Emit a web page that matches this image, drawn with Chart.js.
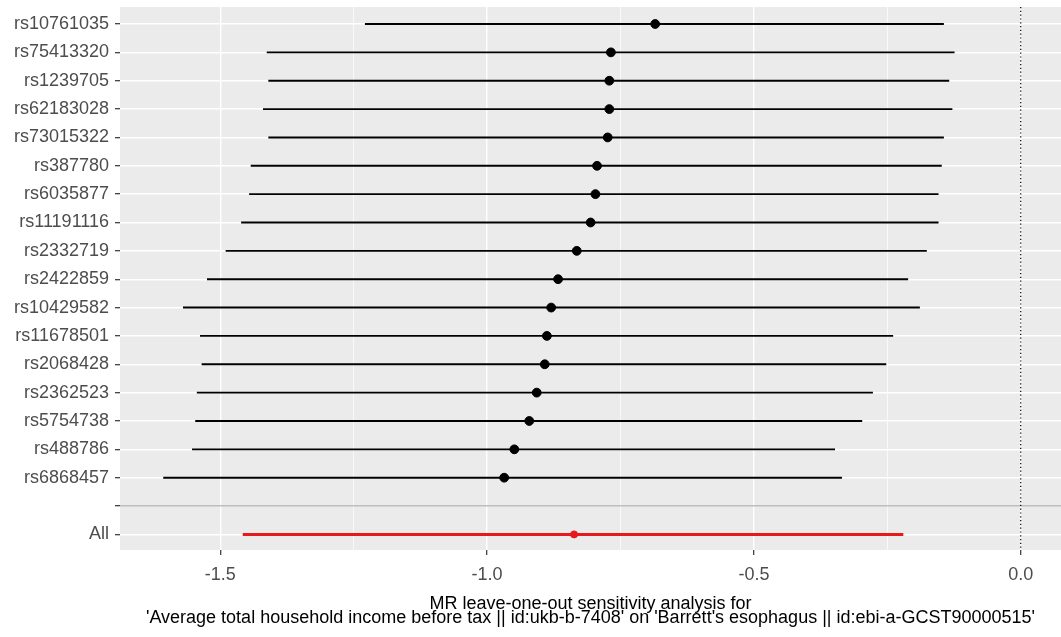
<!DOCTYPE html>
<html>
<head>
<meta charset="utf-8">
<script src="https://cdn.jsdelivr.net/npm/chart.js@4/dist/chart.umd.min.js"></script>
<style>
	html, body { margin: 0; padding: 0; background: #fff; overflow: hidden; }
	#wrap { width: 1061px; height: 637px; }
	canvas { display: block; }
</style>
</head>
<body>
<div id="wrap"><canvas id="chartLoo"></canvas></div>
<script>
// leave-one-out estimates, top row first
var snps = ['rs10761035', 'rs75413320', 'rs1239705', 'rs62183028', 'rs73015322', 'rs387780',
	'rs6035877', 'rs11191116', 'rs2332719', 'rs2422859', 'rs10429582', 'rs11678501',
	'rs2068428', 'rs2362523', 'rs5754738', 'rs488786', 'rs6868457'];
var beta = [-0.685, -0.768, -0.771, -0.771, -0.774, -0.794, -0.797, -0.806, -0.832,
	-0.867, -0.880, -0.888, -0.892, -0.907, -0.921, -0.949, -0.968];
var lower = [-1.229, -1.413, -1.410, -1.420, -1.410, -1.443, -1.446, -1.461, -1.490,
	-1.525, -1.570, -1.538, -1.535, -1.544, -1.547, -1.553, -1.607];
var upper = [-0.144, -0.124, -0.134, -0.128, -0.144, -0.148, -0.154, -0.154, -0.176,
	-0.211, -0.189, -0.239, -0.252, -0.277, -0.297, -0.348, -0.335];

var allBeta = -0.837;
var allLower = -1.458;
var allUpper = -0.220;

var rowLabels = snps.concat(['', 'All']);
var xTicks = [-1.5, -1.0, -0.5, 0.0];
var refLine = 0;
var xTitle = ['MR leave-one-out sensitivity analysis for',
	"'Average total household income before tax || id:ukb-b-7408' on 'Barrett's esophagus || id:ebi-a-GCST90000515'"];

var FONT = "'Liberation Sans', Arial, sans-serif";
var sepRow = rowLabels.indexOf('');
var allRow = rowLabels.indexOf('All');

function isMajor(v) {
	return xTicks.some(function(t) { return Math.abs(t - v) < 1e-6; });
}

// chart.js reserves room for half of the end labels, the ggplot panel does not
function noPadding(scale) {
	scale.paddingTop = 0;
	scale.paddingBottom = 0;
	scale.paddingLeft = 0;
	scale.paddingRight = 0;
}

var panelPlugin = {
	id: 'panel',
	beforeDraw: function(chart) {
		var a = chart.chartArea;
		var ctx = chart.ctx;
		ctx.save();
		ctx.fillStyle = '#EBEBEB';
		ctx.fillRect(a.left, a.top, a.right - a.left, a.bottom - a.top);
		ctx.restore();
	},
	beforeDatasetsDraw: function(chart) {
		var a = chart.chartArea;
		var ctx = chart.ctx;
		var x = chart.scales.x.getPixelForValue(refLine);
		ctx.save();
		ctx.strokeStyle = '#000';
		ctx.lineWidth = 1.2;
		ctx.setLineDash([1.2, 2.6]);
		ctx.beginPath();
		ctx.moveTo(x, a.top);
		ctx.lineTo(x, a.bottom);
		ctx.stroke();
		ctx.restore();
	}
};

var datasets = [];

// points first so they are drawn on top of the bars
datasets.push({
	type: 'scatter',
	data: snps.map(function(s, i) { return { x: beta[i], y: i }; }),
	backgroundColor: '#000',
	borderColor: '#000',
	pointRadius: 4.4,
	pointHoverRadius: 4.4
});
datasets.push({
	type: 'scatter',
	data: [{ x: allBeta, y: allRow }],
	backgroundColor: '#E8191B',
	borderColor: '#E8191B',
	pointRadius: 3.5,
	pointHoverRadius: 3.5
});

snps.forEach(function(s, i) {
	datasets.push({
		type: 'line',
		data: [{ x: lower[i], y: i }, { x: upper[i], y: i }],
		borderColor: '#000',
		borderWidth: 1.9,
		pointRadius: 0,
		fill: false
	});
});
datasets.push({
	type: 'line',
	data: [{ x: allLower, y: allRow }, { x: allUpper, y: allRow }],
	borderColor: '#E8191B',
	borderWidth: 3,
	pointRadius: 0,
	fill: false
});

var chart = new Chart(document.getElementById('chartLoo'), {
	type: 'scatter',
	data: { datasets: datasets },
	plugins: [panelPlugin],
	options: {
		responsive: true,
		maintainAspectRatio: false,
		animation: false,
		layout: { autoPadding: false, padding: { top: 7, right: 0, left: 0, bottom: 0 } },
		plugins: {
			legend: { display: false },
			tooltip: { enabled: false }
		},
		scales: {
			x: {
				type: 'linear',
				min: -1.688,
				max: 0.0755,
				border: { display: false },
				afterFit: function(scale) { scale.height = 87; noPadding(scale); },
				grid: {
					color: '#FFFFFF',
					lineWidth: function(c) { return isMajor(c.tick.value) ? 1.4 : 0.7; },
					tickColor: function(c) { return isMajor(c.tick.value) ? '#333333' : 'rgba(0,0,0,0)'; },
					tickLength: 5,
					tickWidth: 1.2
				},
				ticks: {
					stepSize: 0.25,
					includeBounds: false,
					autoSkip: false,
					maxRotation: 0,
					padding: 9,
					color: '#4D4D4D',
					font: { family: FONT, size: 18 },
					callback: function(v) { return isMajor(v) ? v.toFixed(1) : ''; }
				},
				title: {
					display: true,
					text: xTitle,
					color: '#000',
					font: { family: FONT, size: 18, lineHeight: 0.76 },
					padding: { top: 0, bottom: 12.5 }
				}
			},
			y: {
				type: 'linear',
				reverse: true,
				min: -0.6,
				max: rowLabels.length - 1 + 0.55,
				border: { display: false },
				afterFit: function(scale) { scale.width = 120; noPadding(scale); },
				grid: {
					color: function(c) { return c.tick.value === sepRow ? '#BEBEBE' : '#FFFFFF'; },
					lineWidth: 1.4,
					tickColor: '#333333',
					tickLength: 5,
					tickWidth: 1.2
				},
				ticks: {
					stepSize: 1,
					includeBounds: false,
					autoSkip: false,
					padding: 6,
					color: '#4D4D4D',
					font: { family: FONT, size: 18 },
					callback: function(v) { return rowLabels[v]; }
				}
			}
		}
	}
});
</script>
</body>
</html>
